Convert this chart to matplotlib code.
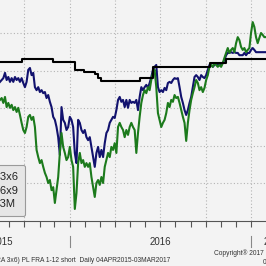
import matplotlib
matplotlib.use('Agg')
import matplotlib.pyplot as plt
import matplotlib.dates as mdates
from matplotlib.lines import Line2D
from matplotlib.transforms import blended_transform_factory
import pandas as pd

# ---------------- data ----------------
start_date = '2015-08-13'
end_date = '2017-01-31'

fra_3x6 = [
    1.670, 1.675, 1.680, 1.694, 1.675, 1.683, 1.670, 1.680, 1.670, 1.683, 1.675, 1.680, 1.670, 1.680, 1.667,
    1.656, 1.670, 1.702, 1.707, 1.688, 1.694, 1.656, 1.648, 1.656, 1.643, 1.648, 1.640, 1.643, 1.627, 1.635,
    1.617, 1.603, 1.577, 1.569, 1.550, 1.523, 1.476, 1.603, 1.569, 1.561, 1.542, 1.550, 1.577, 1.569, 1.550,
    1.481, 1.454, 1.569, 1.561, 1.542, 1.534, 1.542, 1.523, 1.515, 1.523,
    1.497, 1.470, 1.444, 1.481, 1.497, 1.470, 1.489, 1.470, 1.507, 1.534, 1.542, 1.561, 1.569, 1.577, 1.574,
    1.595, 1.622, 1.630, 1.617, 1.622, 1.603, 1.622, 1.601, 1.622, 1.614, 1.617, 1.614, 1.622, 1.595, 1.630,
    1.656, 1.648, 1.656, 1.662, 1.654, 1.667, 1.683, 1.702, 1.710, 1.715, 1.656, 1.643, 1.648, 1.643, 1.654,
    1.648, 1.667, 1.670, 1.667, 1.675, 1.680, 1.678, 1.680,
    1.656, 1.630, 1.614, 1.595, 1.582, 1.595, 1.614, 1.630, 1.656, 1.683, 1.688, 1.683, 1.675, 1.688, 1.683,
    1.680, 1.688, 1.702, 1.715, 1.715, 1.710, 1.715, 1.720, 1.715, 1.715, 1.715, 1.720, 1.728, 1.741, 1.747,
    1.747, 1.749, 1.747, 1.749, 1.747, 1.747, 1.741, 1.741, 1.741, 1.747, 1.741, 1.747, 1.747, 1.755, 1.760,
    1.755, 1.749, 1.749, 1.749, 1.749, 1.749, 1.749, 1.749,
]

fra_6x9 = [
    1.622, 1.627, 1.614, 1.630, 1.603, 1.614, 1.601, 1.609, 1.595, 1.603, 1.590, 1.601, 1.582, 1.561, 1.542,
    1.534, 1.550, 1.577, 1.582, 1.569, 1.577, 1.550, 1.489, 1.470, 1.454, 1.462, 1.444, 1.428, 1.417, 1.401,
    1.409, 1.382, 1.390, 1.348, 1.382, 1.417, 1.481, 1.534, 1.497, 1.481, 1.462, 1.470, 1.497, 1.462, 1.444,
    1.332, 1.374, 1.454, 1.481, 1.454, 1.462, 1.444, 1.454, 1.444, 1.454,
    1.417, 1.390, 1.364, 1.401, 1.409, 1.396, 1.417, 1.401, 1.444, 1.462, 1.481, 1.470, 1.497, 1.489, 1.507,
    1.481, 1.550, 1.561, 1.550, 1.542, 1.523, 1.542, 1.529, 1.550, 1.561, 1.550, 1.542, 1.481, 1.534, 1.577,
    1.614, 1.635, 1.648, 1.640, 1.656, 1.648, 1.675, 1.694, 1.702, 1.656, 1.587, 1.569, 1.550, 1.561, 1.569,
    1.587, 1.614, 1.603, 1.622, 1.617, 1.635, 1.627, 1.630,
    1.614, 1.595, 1.577, 1.561, 1.513, 1.561, 1.595, 1.622, 1.640, 1.656, 1.675, 1.667, 1.648, 1.656, 1.643,
    1.654, 1.675, 1.688, 1.710, 1.715, 1.710, 1.720, 1.715, 1.710, 1.715, 1.710, 1.720, 1.734, 1.747, 1.760,
    1.747, 1.755, 1.760, 1.749, 1.773, 1.789, 1.781, 1.763, 1.755, 1.760, 1.749, 1.755, 1.760, 1.800, 1.829,
    1.816, 1.789, 1.773, 1.787, 1.800, 1.795, 1.789, 1.789,
]

wibor_dates = ['2015-08-13', '2015-09-26', '2015-11-29', '2016-01-11', '2016-01-29', '2016-02-21',
               '2016-02-27', '2016-03-04', '2016-05-22', '2016-06-17', '2016-10-10', '2016-11-11',
               '2017-01-31']
wibor_3m = [1.723, 1.731, 1.723, 1.702, 1.696, 1.691, 1.680, 1.672, 1.680, 1.710, 1.720, 1.731, 1.731]

legend_labels = ['PL FRA 3x6', 'PL FRA 6x9', 'WIBOR 3M']
year_labels = ['2015', '2016', '2017']
year_label_dates = ['2015-08-17', '2016-07-02', '2017-02-17']
year_bounds = ['2016-01-01', '2017-01-01']
footer_text = '(PL FRA 6x9-PL FRA 3x6) PL FRA 1-12 short  Daily 04APR2015-03MAR2017'
copyright_lines = ['Copyright\u00ae 2017 Bloomberg Finance L.P.', '03-Mar-2017 10:12:41']

# ---------------- style ----------------
bg = '#f3f3f3'
navy = '#12126e'
green = '#1c7a1c'
grid_c = '#b4b4b4'
font = ['Liberation Sans', 'DejaVu Sans']

dates = pd.date_range(start_date, end_date, periods=len(fra_3x6))
wd = pd.to_datetime(wibor_dates)

fig = plt.figure(figsize=(2.66, 2.66), dpi=100, facecolor=bg)
ax = fig.add_axes([0, 45 / 266, 1, 221 / 266])
ax.set_facecolor(bg)

ax.plot(dates, fra_3x6, color=navy, lw=1.5, solid_joinstyle='round', zorder=3)
ax.plot(dates, fra_6x9, color=green, lw=1.5, solid_joinstyle='round', zorder=4)
ax.plot(wd, wibor_3m, color='black', lw=1.5, drawstyle='steps-post', zorder=5)

ax.set_xlim(dates[0], dates[-1])
ax.set_ylim(1.3, 1.3 + 221 / 376)

ax.xaxis.set_major_locator(mdates.MonthLocator(bymonth=[1, 4, 7, 10]))
ax.xaxis.set_minor_locator(mdates.MonthLocator())
ax.xaxis.set_major_formatter(plt.NullFormatter())
ax.tick_params(axis='x', which='both', direction='out', length=4, width=0.8, colors='#555555')
ax.set_yticks([1.4, 1.5, 1.6, 1.7, 1.8])
ax.tick_params(axis='y', length=0, labelleft=False)
ax.grid(True, which='major', ls=(0, (1, 2)), color=grid_c, lw=0.8)

for s in ['left', 'right', 'top']:
    ax.spines[s].set_visible(False)
ax.spines['bottom'].set_color('#555555')
ax.spines['bottom'].set_linewidth(0.8)

# legend
handles = [Line2D([], [], color=navy, lw=1.5), Line2D([], [], color=green, lw=1.5),
           Line2D([], [], color='black', lw=1.5)]
leg = ax.legend(handles, legend_labels, loc='upper right', bbox_to_anchor=(25 / 266, (221 - 165) / 221),
                prop={'family': font, 'size': 8}, frameon=True, fancybox=True, borderpad=0.65,
                labelspacing=0.3, handlelength=1.5, borderaxespad=0)
leg.get_frame().set_facecolor('#e6e6e6')
leg.get_frame().set_edgecolor('#9a9a9a')
leg.get_frame().set_alpha(1)
leg.get_frame().set_linewidth(0.8)
for t in leg.get_texts():
    t.set_color('#222222')

# year labels & separators
tr = blended_transform_factory(ax.transData, ax.transAxes)
for lab, d in zip(year_labels, year_label_dates):
    ax.text(pd.Timestamp(d), -0.097, lab, transform=tr, ha='center', va='center',
            fontsize=7, family=font, color='#333333', clip_on=False)
for d in year_bounds:
    ax.plot([pd.Timestamp(d)] * 2, [-0.068, -0.118], transform=tr, color='#888888', lw=0.8, clip_on=False)

fig.text(170 / 266, 1 - 261 / 266, footer_text, ha='right', va='center', fontsize=4.8,
         family=font, color='#333333')
fig.text(214 / 266, 1 - 253 / 266, copyright_lines[0], ha='left', va='center', fontsize=4.8,
         family=font, color='#333333')
fig.text(263 / 266, 1 - 262 / 266, copyright_lines[1], ha='left', va='center', fontsize=4.8,
         family=font, color='#333333')

fig.savefig('out.png', dpi=100, facecolor=bg)
